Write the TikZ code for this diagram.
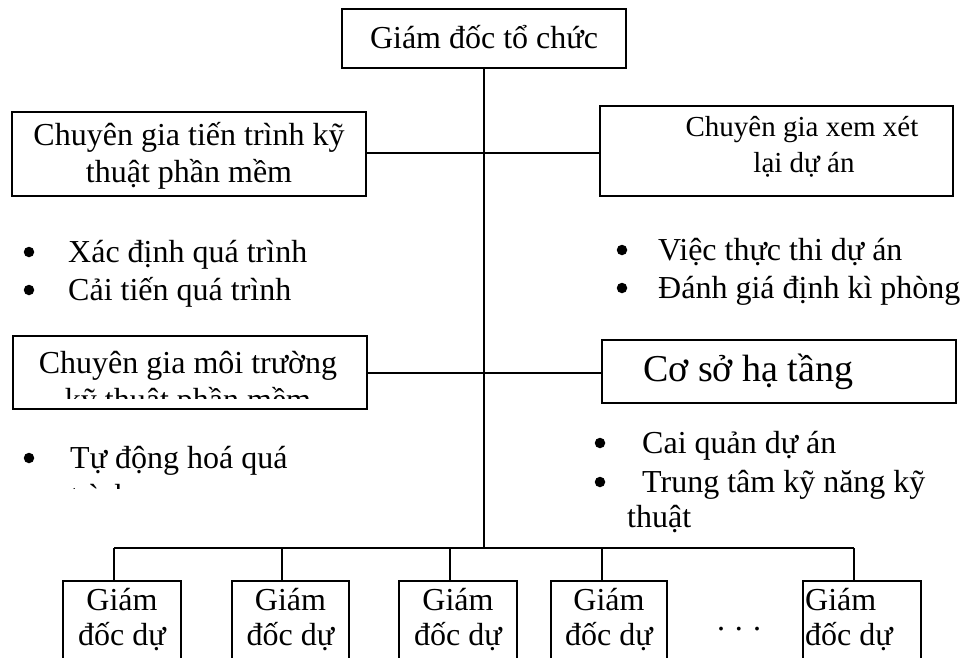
\documentclass[tikz,border=0pt]{standalone}
\usepackage{fontspec}
\setmainfont{Liberation Serif}
\begin{document}
\begin{tikzpicture}[x=1pt,y=-1pt,
  box/.style={draw,line width=2.2pt,inner sep=0pt,minimum width=#1},
  wire/.style={line width=1.8pt},
  dot/.style={circle,fill,inner sep=0pt,minimum size=10.5pt},
  txt/.style={inner sep=0pt,font=\fontsize{32}{38}\selectfont},
  txtsm/.style={inner sep=0pt,font=\fontsize{29}{35}\selectfont},
  txtlg/.style={inner sep=0pt,font=\fontsize{38}{44}\selectfont}]
\clip (0,0) rectangle (961,657);
\fill[white] (0,0) rectangle (961,657);
% boxes
\node[box=284,minimum height=59] (top) at (484,38.5) {};
\node[box=354,minimum height=84] (lb1) at (189,154) {};
\node[box=353,minimum height=90] (rb1) at (776.5,151) {};
\node[box=354,minimum height=73] (lb2) at (190,372.5) {};
\node[box=354,minimum height=63] (rb2) at (779,371.5) {};
\foreach \n/\cx/\w in {g1/122/118,g2/290.5/117,g3/458/118,g4/609/116,g5/862/118}
  \node[box=\w,minimum height=110,anchor=north] (\n) at (\cx,580) {};
% texts in boxes
\node[txt,anchor=base] (ttop) at (484,48) {Giám đốc tổ chức};
\node[txt,anchor=base] (tlb1a) at (189,145) {Chuyên gia tiến trình kỹ};
\node[txt,anchor=base] (tlb1b) at (189,182) {thuật phần mềm};
\node[txtsm,anchor=base] (trb1a) at (802,136) {Chuyên gia xem xét};
\node[txtsm,anchor=base] (trb1b) at (804,172) {lại dự án};
\node[txt,anchor=base] (tlb2a) at (188,373) {Chuyên gia môi trường};
\begin{scope}
  \clip (15,336) rectangle (365,398);
  \node[txt,anchor=base] (tlb2b) at (188,410) {kỹ thuật phần mềm};
\end{scope}
\node[txtlg,anchor=base west] (trb2) at (643,381) {Cơ sở hạ tầng};
\foreach \n/\cx in {g1/122,g2/290.5,g3/458,g4/609}{
  \node[txt,anchor=base] (\n a) at (\cx,610) {Giám};
  \node[txt,anchor=base] (\n b) at (\cx,645) {đốc dự};
}
\node[txt,anchor=base west] (g5a) at (805,610) {Giám};
\node[txt,anchor=base west] (g5b) at (805,645) {đốc dự};
\node[txt,anchor=base] (dots) at (739,630) {.\hspace{10pt}.\hspace{10pt}.};
% bullets
\node[dot] (b1) at (29,252) {};
\node[txt,anchor=base west] (l1) at (68,262) {Xác định quá trình};
\node[dot] (b2) at (29,290) {};
\node[txt,anchor=base west] (l2) at (68,300) {Cải tiến quá trình};
\node[dot] (b3) at (622,250) {};
\node[txt,anchor=base west] (r1) at (658,260) {Việc thực thi dự án};
\node[dot] (b4) at (622,288) {};
\node[txt,anchor=base west] (r2) at (658,298) {Đánh giá định kì phòng};
\node[dot] (b5) at (29,458) {};
\node[txt,anchor=base west] (l3) at (70,468) {Tự động hoá quá};
\begin{scope}
  \clip (60,470) rectangle (300,488);
  \node[txt,anchor=base west] (l3b) at (70,506) {trình};
\end{scope}
\node[dot] (b6) at (600,443) {};
\node[txt,anchor=base west] (r3) at (642,453) {Cai quản dự án};
\node[dot] (b7) at (600,482) {};
\node[txt,anchor=base west] (r4) at (642,492) {Trung tâm kỹ năng kỹ};
\node[txt,anchor=base west] (r5) at (627,527) {thuật};
% connectors
\coordinate (bus) at (484,548);
\coordinate (c1) at (484,153);
\coordinate (c2) at (484,373);
\draw[wire] (top.south) -- (bus);
\draw[wire] (lb1.east |- c1) -- (rb1.west |- c1);
\draw[wire] (lb2.east |- c2) -- (rb2.west |- c2);
\coordinate (d1) at (114,548);
\coordinate (d2) at (282,548);
\coordinate (d3) at (450,548);
\coordinate (d4) at (602,548);
\coordinate (d5) at (854,548);
\draw[wire] (d1) -- (d5);
\draw[wire] (d1) -- (d1 |- g1.north);
\draw[wire] (d2) -- (d2 |- g2.north);
\draw[wire] (d3) -- (d3 |- g3.north);
\draw[wire] (d4) -- (d4 |- g4.north);
\draw[wire] (d5) -- (d5 |- g5.north);
\end{tikzpicture}
\end{document}
